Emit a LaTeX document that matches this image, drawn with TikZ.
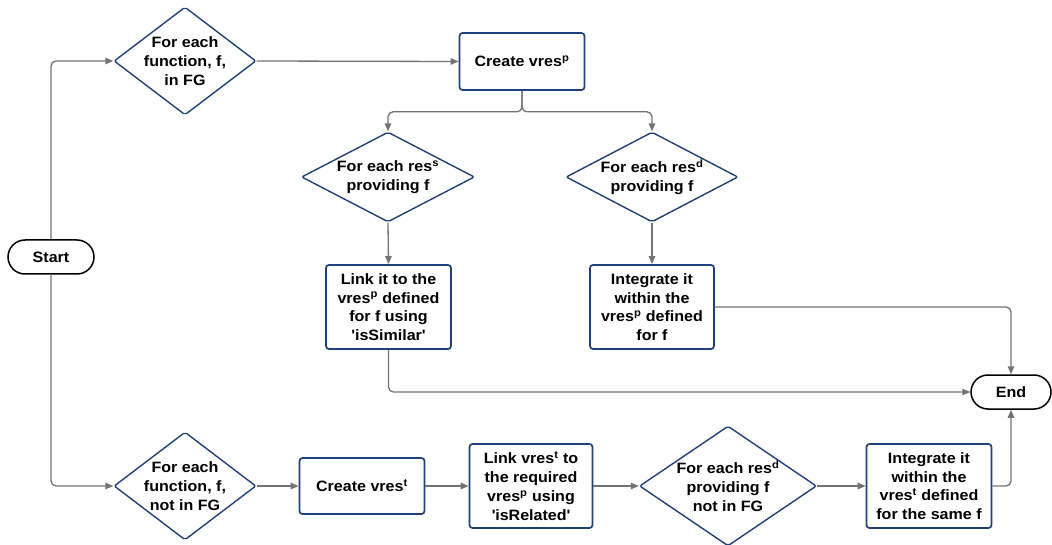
\documentclass[tikz,border=0pt]{standalone}
\usepackage{fontspec}
\setmainfont[FakeStretch=1.07]{Liberation Sans}
\usetikzlibrary{shapes.geometric,arrows.meta}
\definecolor{navy}{HTML}{1F4178}
\definecolor{linegray}{HTML}{737373}
\newcommand{\sq}{\textquotesingle}
\tikzset{
  txt/.style={font=\bfseries\fontsize{15}{18.7}\selectfont, align=center},
  box/.style={txt, draw=navy, line width=1.7pt, rounded corners=3pt, fill=white, inner sep=0pt},
  term/.style={txt, draw=black, line width=1.5pt, rounded corners=17pt, fill=white, inner sep=0pt, minimum height=34pt},
  dec/.style={diamond, draw=navy, line width=1.4pt, rounded corners=2pt, fill=white, inner sep=0pt},
  lbl/.style={txt, inner sep=0pt},
  arr/.style={draw=linegray, line width=1.3pt, rounded corners=5pt, -{Triangle[length=8pt,width=6.5pt]}}
}
\begin{document}
\begin{tikzpicture}[x=1pt,y=-1pt]
\useasboundingbox (0,0) rectangle (1052,545);
% terminals
\node[term, minimum width=86pt] (start) at (51,257) {Start};
\node[term, minimum width=80pt] (end) at (1011,392) {End};
% top row
\node[dec, minimum width=142pt, minimum height=108pt,
      label={[lbl]center:For each\\function, f,\\in FG}] (d1) at (185,61) {};
\node[box, minimum width=125pt, minimum height=57pt] (cp) at (522,61.5) {Create vres\textsuperscript{p}};
% middle
\node[dec, minimum width=173pt, minimum height=90pt,
      label={[lbl]center:For each res\textsuperscript{s}\\providing f}] (ds) at (388,177) {};
\node[dec, minimum width=172pt, minimum height=90pt,
      label={[lbl]center:For each res\textsuperscript{d}\\providing f}] (dd) at (652,177) {};
\node[box, minimum width=125pt, minimum height=84pt] (link) at (388.5,307)
  {Link it to the\\vres\textsuperscript{p} defined\\for f using\\\sq isSimilar\sq};
\node[box, minimum width=124pt, minimum height=84pt] (integ) at (652,307)
  {Integrate it\\within the\\vres\textsuperscript{p} defined\\for f};
% bottom row
\node[dec, minimum width=142pt, minimum height=108pt,
      label={[lbl]center:For each\\function, f,\\not in FG}] (d4) at (185,486) {};
\node[box, minimum width=125pt, minimum height=56pt] (ct) at (362,486) {Create vres\textsuperscript{t}};
\node[box, minimum width=123pt, minimum height=84pt] (lt) at (531,486)
  {Link vres\textsuperscript{t} to\\the required\\vres\textsuperscript{p} using\\\sq isRelated\sq};
\node[dec, minimum width=177pt, minimum height=120pt,
      label={[lbl]center:For each res\textsuperscript{d}\\providing f\\not in FG}] (dd2) at (728,486) {};
\node[box, minimum width=125pt, minimum height=84pt] (integ2) at (929,486)
  {Integrate it\\within the\\vres\textsuperscript{t} defined\\for the same f};
% connectors
\draw[arr] (start.north) |- (d1.west);
\draw[arr] (start.south) |- (d4.west);
\draw[arr] (d1.east) -- (cp.west);
\draw[arr] (cp.south) -- ++(0,21) -| (ds.north);
\draw[arr] (cp.south) -- ++(0,21) -| (dd.north);
\draw[arr] (ds.south) -- (link.north);
\draw[arr] (dd.south) -- (integ.north);
\draw[arr] (link.south) |- (end.west);
\draw[arr] (integ.east) -| (end.north);
\draw[arr] (d4.east) -- (ct.west);
\draw[arr] (ct.east) -- (lt.west);
\draw[arr] (lt.east) -- (dd2.west);
\draw[arr] (dd2.east) -- (integ2.west);
\draw[arr] (integ2.east) -| (end.south);
\end{tikzpicture}
\end{document}
